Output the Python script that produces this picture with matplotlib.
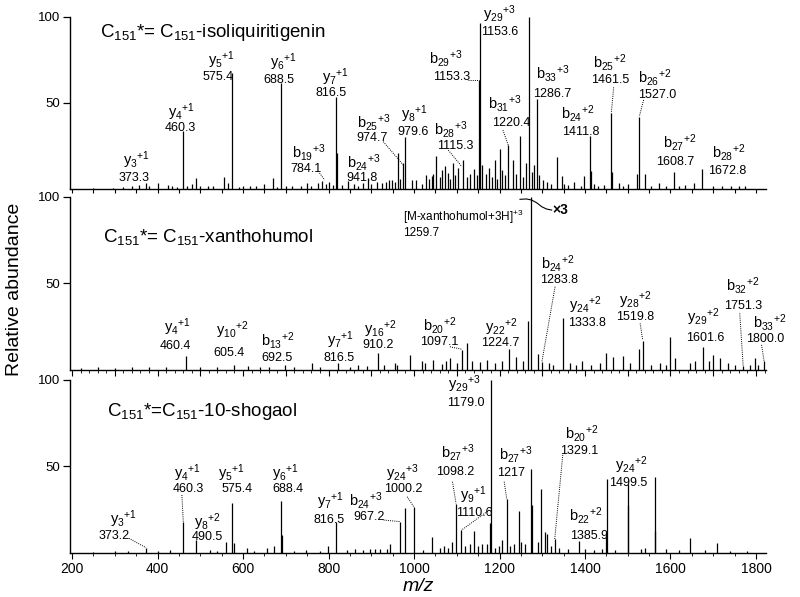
import matplotlib
matplotlib.use("Agg")
import matplotlib.pyplot as plt
from matplotlib.ticker import MultipleLocator, FixedLocator, NullFormatter

plt.rcParams['font.family'] = ['Liberation Sans', 'DejaVu Sans']
plt.rcParams['mathtext.fontset'] = 'custom'
plt.rcParams['mathtext.rm'] = 'Liberation Sans'
plt.rcParams['mathtext.it'] = 'Liberation Sans:italic'
plt.rcParams['mathtext.bf'] = 'Liberation Sans:bold'
plt.rcParams['mathtext.sf'] = 'Liberation Sans'

# ---------------- data: peaks (m/z, relative abundance) ----------------
iso_mz = [373.3, 460.3, 575.4, 688.5, 816.5, 784.1, 941.8, 974.7, 979.6, 1115.3, 1152.0, 1153.6,
          1220.4, 1286.7, 1411.8, 1461.5, 1527.0, 1608.7, 1672.8,
          1270, 819.6, 962,
          296.8, 339.6, 356.8, 402, 424, 433, 481.6, 490, 519, 555.6, 566, 601, 616.5, 649, 669.5,
          714, 749, 776.4, 800, 831, 846.6, 881.7, 891.7, 912.8, 926, 949.5, 994.6, 1018, 1028,
          1041.4, 1051, 1064.8, 1073, 1080.5, 1092, 1104, 1141, 1160, 1176, 1190, 1201, 1207,
          1230.6, 1247, 1262, 1281.5, 1301, 1333.5, 1346, 1375, 1397, 1413.5, 1463, 1480, 1522,
          1541, 1573.6, 1635, 1656, 1741,
          1005, 1035, 1045, 1060, 1085, 1097, 1125, 1132, 1148, 1168, 1183, 1195, 1213, 1238,
          1255, 1275, 1292, 1310, 1320, 1350, 1360, 1390, 1420, 1430, 1445, 1490, 1500, 1555,
          1590, 1620, 1700, 1720, 1760, 1775,
          250, 320, 380, 445, 470, 500, 530, 590, 630, 680, 700, 735, 760, 795, 810, 860, 870,
          900, 935, 955, 968]
iso_h = [3.7, 33.7, 67.5, 61.3, 53.6, 4.4, 5.4, 15, 30, 17, 63, 96.5,
         25.5, 52, 31, 44, 41.6, 10, 11.6,
         100, 21, 21,
         0.6, 1.5, 2.5, 3.5, 2.5, 1.5, 3, 6.4, 1.5, 6.8, 3.5, 1.5, 1.5, 2.9, 6.4,
         1.5, 3.5, 3.5, 3.9, 2.5, 4.4, 3.5, 6.4, 3.9, 3.5, 5.4, 5.4, 3, 8,
         7.3, 19, 11.2, 13.5, 9.3, 15, 12, 11.6, 14, 12, 17, 23, 11,
         17, 31, 15, 14, 5, 18.5, 7.5, 4, 7.5, 10.6, 10, 3.5, 8.7,
         8.8, 3.5, 2.3, 3.5, 2,
         5, 6, 9, 7, 6, 8, 7, 9, 8, 9, 7, 6, 8, 9,
         7, 10, 8, 4, 3, 3, 2.5, 2, 3, 2, 2.5, 2, 3, 2,
         2, 2, 1.5, 2, 1.5, 1.5,
         0.5, 1, 1.5, 1, 1.5, 2, 1.5, 1, 2, 1, 1.5, 2, 2, 3, 2.5, 3, 2,
         3, 4, 4, 6]

xan_mz = [466.4, 611.4, 698.5, 822.5, 916.2, 1112.1, 1239.7, 1274.7, 1298.8, 1348.8, 1534.8,
          1599.0, 1770.3, 1819.0,
          578, 761.4, 956.5, 990, 1019, 1045, 1084, 1123, 1170, 1223, 1266.7, 1290.8, 1392.3,
          1449, 1466, 1488, 1527, 1610.5, 1657, 1676.7, 1700, 1716, 1797.7,
          220, 260, 300, 340, 380, 420, 500, 540, 640, 660, 720, 780, 850, 870, 890, 930, 960,
          1025, 1065, 1075, 1100, 1135, 1155, 1190, 1205, 1255, 1315, 1325, 1365, 1380, 1415,
          1435, 1505, 1555, 1575, 1590, 1645, 1690, 1735, 1750, 1785, 1805]
xan_h = [8, 2.5, 2.7, 3.8, 10, 11.5, 7.7, 100, 4.5, 30, 17,
         19, 2.5, 5,
         3, 3.8, 3.8, 8.5, 5, 6, 6.7, 15.4, 6, 12, 28.5, 9, 5,
         10, 7.5, 8, 12, 7, 5, 13.5, 8.5, 6.7, 6.7,
         1, 1.5, 1, 1.5, 2, 1.5, 2, 1.5, 1.5, 2, 1.5, 2, 2, 3, 2.5, 3, 3,
         4, 3.5, 5, 4, 5, 4.5, 4, 5, 5, 4, 3, 4, 3, 3,
         4, 4, 3, 4, 3, 4, 5, 4, 3, 3, 3]

sho_mz = [373.2, 460.3, 490.5, 575.4, 688.4, 816.5, 967.2, 1000.2, 1098.2, 1110.6, 1179.0,
          1217, 1329.1, 1385.9, 1499.5,
          578, 690.5, 978, 945, 1043, 799, 429, 523, 559.6, 608.6, 655, 672.5, 747, 842.5, 862,
          897, 909, 920, 936, 1090, 1140.7, 1160, 1177.5, 1199, 1207, 1246, 1250, 1273, 1277,
          1297, 1307, 1312, 1449, 1450.5, 1501, 1563, 1564.5, 1646, 1708,
          1060, 1070, 1080, 1120, 1130, 1150, 1170, 1190, 1225, 1235, 1260, 1290, 1320, 1340,
          1360, 1400, 1420, 1440, 1470, 1530, 1540, 1590, 1620, 1680, 1740, 1780,
          250, 300, 330, 400, 540, 625, 720, 780, 880, 1020]
sho_h = [2.9, 18, 7.3, 28.6, 30, 18, 18, 26.3, 28, 13, 100,
         31, 7.7, 7, 39.6,
         5.4, 10, 25.7, 5, 9, 4, 1.5, 1.5, 6, 3, 2.5, 4, 1.5, 1.5, 2,
         2, 2, 2, 2, 6, 12.8, 5, 17, 4, 7.3, 24, 6, 48.6, 27.6,
         37, 11.8, 10.8, 12, 42.5, 27.6, 12.8, 44, 8.3, 5.8,
         3, 4, 3, 4, 5, 4, 5, 3, 4, 5, 5, 6, 4, 3,
         2, 2, 1.5, 2, 1.5, 2, 2.5, 2, 1.5, 1.5, 1, 1,
         0.5, 0.7, 0.8, 1, 1, 1, 1, 1.2, 1.5, 1.5]

titles = [r'C$_{151}$*= C$_{151}$-isoliquiritigenin',
          r'C$_{151}$*= C$_{151}$-xanthohumol',
          r'C$_{151}$*=C$_{151}$-10-shogaol']

x_ticks_bottom = [200, 400, 600, 800, 1000, 1200, 1400, 1600, 1800]
y_ticks = [50, 100]

# annotations: (ion, index, charge, value text, name (x,y), value (x,y), leader or None)
iso_ann = [
    ('y', '3', '+1', '373.3', (351, 16.5), (344, 6.2), None),
    ('y', '4', '+1', '460.3', (455, 44.6), (453, 35.6), None),
    ('y', '5', '+1', '575.4', (550, 74.6), (541, 65.2), None),
    ('y', '6', '+1', '688.5', (694, 73.7), (684, 63.3), None),
    ('y', '7', '+1', '816.5', (817, 64.9), (806, 55.5), None),
    ('b', '19', '+3', '784.1', (753, 21.4), (747, 11.4), [(779, 9.3), (791, 5.2)]),
    ('b', '24', '+3', '941.8', (882, 15.6), (878, 6.2), None),
    ('b', '25', '+3', '974.7', (905, 38.8), (901, 29.4), [(928, 27.5), (974.7, 14)]),
    ('y', '8', '+1', '979.6', (1002, 43.6), (997, 33.3), None),
    ('b', '28', '+3', '1115.3', (1087, 34.4), (1097, 25.1), [(1080, 22.6), (1112, 13)]),
    ('b', '29', '+3', '1153.3', (1075, 75.6), (1087, 64.8), [(1126, 63.3), (1152, 63.3)]),
    ('y', '29', '+3', '1153.6', (1200, 101.7), (1200, 91.3), None),
    ('b', '31', '+3', '1220.4', (1212, 49.5), (1228, 38.5), [(1208, 34.2), (1220.4, 25.5)]),
    ('b', '33', '+3', '1286.7', (1325, 66.9), (1323, 55.1), None),
    ('b', '24', '+2', '1411.8', (1384, 43.6), (1391, 33.3), None),
    ('b', '25', '+2', '1461.5', (1458, 73.7), (1458, 63.3), [(1467, 59), (1461.5, 44)]),
    ('b', '26', '+2', '1527.0', (1563, 64.9), (1568, 54.6), [(1537, 51.7), (1527, 42)]),
    ('b', '27', '+2', '1608.7', (1622, 26.8), (1612, 15.8), None),
    ('b', '28', '+2', '1672.8', (1737, 21.4), (1733, 10.6), None),
]
xan_ann = [
    ('y', '4', '+1', '460.4', (446, 24.8), (442, 13.8), None),
    ('y', '10', '+2', '605.4', (574, 22.8), (567, 10.0), None),
    ('b', '13', '+2', '692.5', (682, 17.0), (680, 6.8), None),
    ('y', '7', '+1', '816.5', (828, 17.0), (824, 6.8), None),
    ('y', '16', '+2', '910.2', (921, 23.8), (916, 14.4), None),
    ('b', '20', '+2', '1097.1', (1061, 25.7), (1059, 16.3), [(1084, 13.4), (1112, 12)]),
    ('y', '22', '+2', '1224.7', (1205, 24.8), (1201, 15.4), None),
    ('b', '24', '+2', '1283.8', (1337, 61.3), (1340, 51.9), [(1330, 48.1), (1299, 4.5)]),
    ('y', '24', '+2', '1333.8', (1400, 37.2), (1404, 26.9), None),
    ('y', '28', '+2', '1519.8', (1517, 40.5), (1517, 30.5), [(1529, 26.9), (1535, 17.3)]),
    ('y', '29', '+2', '1601.6', (1677, 30.5), (1681, 18.3), None),
    ('b', '32', '+2', '1751.3', (1770, 48.7), (1769, 36.9), [(1762, 32.7), (1770, 2.5)]),
    ('b', '33', '+2', '1800.0', (1833, 27.7), (1822, 17.9), [(1813, 14.5), (1819, 5)]),
]
sho_ann = [
    ('y', '3', '+1', '373.2', (321, 19.6), (298, 9.8), [(333, 8.3), (373.2, 2.9)]),
    ('y', '4', '+1', '460.3', (469, 46.3), (471, 37.0), [(457, 33.4), (460.3, 18)]),
    ('y', '8', '+2', '490.5', (516, 17.8), (516, 9.0), None),
    ('y', '5', '+1', '575.4', (574, 46.0), (586, 37.0), None),
    ('y', '6', '+1', '688.4', (699, 46.0), (705, 37.0), None),
    ('y', '7', '+1', '816.5', (805, 29.7), (801, 18.9), None),
    ('b', '24', '+3', '967.2', (886, 30.2), (894, 20.8), [(929, 18.9), (967.2, 18)]),
    ('y', '24', '+3', '1000.2', (972, 46.0), (976, 37.0), [(984, 32.4), (1000.2, 26.3)]),
    ('y', '29', '+3', '1179.0', (1118, 97.8), (1122, 86.5), None),
    ('b', '27', '+3', '1098.2', (1102, 58.3), (1097, 46.9), [(1090, 41.1), (1098.2, 28.6)]),
    ('y', '9', '+1', '1110.6', (1139, 33.5), (1141, 22.8), [(1176, 24.7), (1110.6, 13)]),
    ('b', '27', '+3', '1217', (1237, 56.7), (1227, 46.0), [(1211, 41.1), (1217, 31)]),
    ('b', '20', '+2', '1329.1', (1393, 68.9), (1387, 59.1), [(1348, 56.6), (1329.1, 7.7)]),
    ('b', '22', '+2', '1385.9', (1402, 21.5), (1409, 9.8), None),
    ('y', '24', '+2', '1499.5', (1508, 50.5), (1502, 40.2), None),
]

# ---------------- figure ----------------
fig = plt.figure(figsize=(8.0, 5.97), dpi=100)
positions = [(0.0875, 0.6834, 0.87, 0.2886),
             (0.0875, 0.3802, 0.87, 0.2903),
             (0.0875, 0.0742, 0.87, 0.2893)]
title_pos = [(266, 91.1), (273, 76.9), (282, 81.6)]
spectra = [(iso_mz, iso_h, iso_ann), (xan_mz, xan_h, xan_ann), (sho_mz, sho_h, sho_ann)]

axes = []
for i, (pos, (mz, h, ann)) in enumerate(zip(positions, spectra)):
    ax = fig.add_axes(pos)
    axes.append(ax)
    ax.vlines(mz, 0, h, color='black', linewidth=0.9, clip_on=False)
    ax.set_xlim(195.3, 1823.4)
    ax.set_ylim(0, 100)
    for s in ('top', 'right'):
        ax.spines[s].set_visible(False)
    ax.spines['left'].set_linewidth(1.0)
    ax.spines['bottom'].set_linewidth(1.0)
    ax.yaxis.set_major_locator(FixedLocator(y_ticks))
    ax.tick_params(axis='y', direction='out', length=5, width=0.9, labelsize=9.5, pad=2)
    if i == 0:
        ax.xaxis.set_major_locator(MultipleLocator(50))
        ax.xaxis.set_major_formatter(NullFormatter())
        ax.tick_params(axis='x', direction='out', length=3, width=0.8)
    elif i == 1:
        ax.xaxis.set_major_locator(MultipleLocator(100))
        ax.xaxis.set_minor_locator(MultipleLocator(20))
        ax.xaxis.set_major_formatter(NullFormatter())
        ax.tick_params(axis='x', which='major', direction='out', length=4, width=0.8)
        ax.tick_params(axis='x', which='minor', direction='out', length=2, width=0.6)
    else:
        ax.xaxis.set_major_locator(FixedLocator(x_ticks_bottom))
        ax.xaxis.set_minor_locator(MultipleLocator(50))
        ax.tick_params(axis='x', which='major', direction='out', length=4, width=0.8,
                       labelsize=10, pad=3)
        ax.tick_params(axis='x', which='minor', direction='out', length=2, width=0.6)
        ax.set_xlabel('m/z', fontsize=14, style='italic', labelpad=1)

    tx, ty = title_pos[i]
    ax.text(tx, ty, titles[i], fontsize=13.5, ha='left', va='center')

    for ion, sub, chg, val, nxy, vxy, lead in ann:
        ax.text(nxy[0], nxy[1], r'$\mathrm{%s}_{%s}{}^{%s}$' % (ion, sub, chg),
                fontsize=10.5, ha='center', va='center', clip_on=False)
        ax.text(vxy[0], vxy[1], val, fontsize=9, ha='center', va='center', clip_on=False)
        if lead is not None:
            (x0, y0), (x1, y1) = lead
            ax.plot([x0, x1], [y0, y1], linestyle=(0, (1, 1.2)), color='black',
                    linewidth=0.7, clip_on=False)

# special annotation in the xanthohumol panel
axm = axes[1]
axm.text(975, 88.6, r'[M-xanthohumol+3H]$^{+3}$', fontsize=8.5, ha='left', va='center')
axm.text(975, 79.2, '1259.7', fontsize=8.5, ha='left', va='center')
curve_x = [1248, 1263, 1275, 1287, 1299, 1310, 1322]
curve_y = [98.5, 98.7, 98.1, 96.5, 94.2, 92.9, 92.3]
axm.plot(curve_x, curve_y, color='black', linewidth=0.8, clip_on=False)
axm.text(1324, 92.3, '×3', fontsize=10, fontweight='bold', ha='left', va='center')

fig.text(15 / 800, 1 - 289 / 597, 'Relative abundance', rotation=90, fontsize=14,
         ha='center', va='center')

fig.savefig('out.png', dpi=100)
